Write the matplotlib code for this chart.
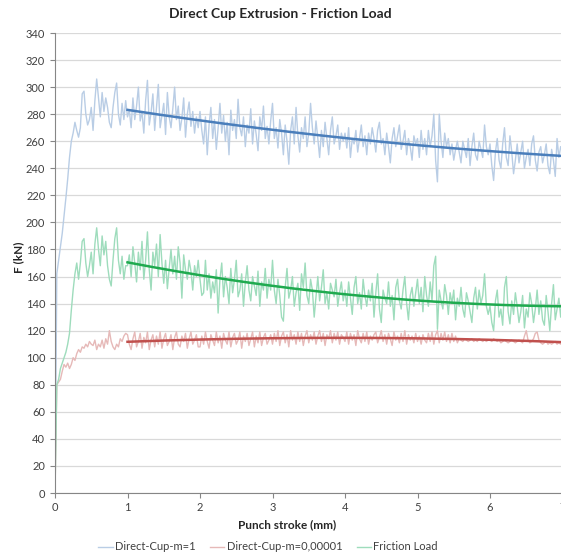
import numpy as np
import matplotlib
matplotlib.use("Agg")
import matplotlib.pyplot as plt

plt.rcParams['font.family'] = ['Lato', 'DejaVu Sans']

title = "Direct Cup Extrusion - Friction Load"
x_label = "Punch stroke (mm)"
y_label = "F (kN)"
series_names = ["Direct-Cup-m=1", "Direct-Cup-m=0,00001", "Friction Load"]
stroke_step = 0.025   # mm between samples
trend_start = 1.0     # mm where the trend lines begin
y_ticks = list(range(0, 341, 20))
x_ticks = [0, 1, 2, 3, 4, 5, 6, 7]

# Direct-Cup-m=1 (kN), samples every 0.025 mm from 0 to 7 mm
load_m1 = [
    0, 162, 172, 182, 192, 205, 218, 232, 248, 260, 266, 274, 268, 263, 270, 295, 297, 280, 272, 276,
    285, 268, 290, 306, 292, 278, 296, 282, 292, 285, 274, 270, 285, 296, 303, 280, 272, 288, 276, 290,
    278, 283, 270, 292, 276, 286, 300, 275, 282, 266, 290, 305, 272, 281, 295, 268, 285, 302, 270, 279,
    288, 265, 296, 278, 270, 284, 300, 276, 286, 268, 277, 292, 263, 280, 289, 271, 282, 266, 278, 270,
    282, 268, 258, 278, 250, 272, 285, 262, 276, 254, 270, 288, 266, 279, 260, 274, 250, 283, 268, 276,
    262, 291, 270, 264, 278, 256, 272, 266, 284, 258, 275, 265, 253, 278, 268, 286, 262, 271, 258, 275,
    288, 262, 270, 255, 276, 266, 250, 272, 260, 243, 268, 278, 258, 285, 264, 252, 270, 262, 278, 256,
    266, 288, 270, 258, 275, 262, 248, 268, 256, 274, 262, 250, 268, 278, 258, 264, 272, 254, 266, 260,
    266, 255, 270, 248, 262, 258, 268, 252, 262, 272, 256, 264, 250, 266, 258, 270, 262, 252, 268, 274,
    258, 262, 250, 266, 256, 244, 262, 270, 256, 264, 272, 254, 260, 268, 250, 262, 256, 246, 264, 258,
    262, 248, 268, 254, 262, 250, 268, 256, 264, 280, 246, 230, 280, 260, 248, 266, 256, 262, 250, 258,
    246, 254, 260, 252, 244, 260, 254, 248, 262, 242, 256, 266, 250, 246, 260, 254, 248, 272, 256, 250,
    258, 242, 231, 252, 262, 246, 240, 258, 270, 248, 242, 264, 252, 236, 246, 258, 244, 252, 260, 240,
    248, 254, 242, 258, 264, 246, 238, 252, 256, 244, 250, 258, 242, 236, 254, 246, 234, 262, 248, 256,
    252,
]

# Direct-Cup-m=0,00001 (kN)
load_m00001 = [
    0, 80, 82, 84, 90, 95, 93, 96, 92, 95, 100, 98, 103, 106, 104, 108, 107, 110, 108, 112,
    110, 109, 113, 106, 110, 108, 113, 107, 114, 110, 120, 112, 108, 106, 110, 108, 114, 112, 116, 118,
    117, 110, 106, 114, 119, 108, 112, 118, 107, 115, 111, 119, 106, 113, 117, 108, 116, 110, 119, 107,
    114, 118, 109, 112, 117, 106, 115, 119, 110, 108, 116, 112, 118, 107, 114, 119, 110, 113, 117, 108,
    108, 116, 110, 119, 112, 107, 117, 113, 109, 119, 111, 116, 107, 118, 113, 110, 119, 108, 115, 118,
    110, 113, 119, 107, 116, 112, 118, 109, 114, 119, 108, 116, 111, 119, 109, 115, 118, 110, 113, 117,
    110, 118, 112, 120, 109, 116, 119, 111, 117, 108, 120, 113, 117, 110, 119, 112, 118, 109, 116, 120,
    111, 117, 113, 119, 110, 116, 120, 112, 118, 109, 117, 114, 120, 111, 118, 113, 119, 110, 117, 115,
    112, 119, 110, 118, 113, 117, 109, 120, 114, 111, 118, 112, 119, 110, 116, 113, 117, 119, 111, 115,
    120, 112, 117, 110, 118, 114, 109, 119, 113, 116, 111, 118, 112, 120, 110, 117, 113, 116, 111, 118,
    112, 116, 110, 117, 113, 111, 118, 112, 119, 110, 117, 120, 111, 118, 113, 119, 112, 117, 111, 118,
    112, 116, 111, 114, 113, 112, 114, 113, 112, 113, 114, 112, 113, 112, 114, 113, 112, 113, 112, 113,
    113, 112, 114, 113, 112, 113, 111, 112, 113, 112, 111, 112, 113, 112, 111, 112, 113, 112, 111, 116,
    120, 113, 111, 112, 114, 118, 119, 113, 111, 110, 111, 112, 110, 111, 110, 111, 112, 110, 111, 110,
    111,
]

# Friction Load (kN)
friction_load = [
    0, 80, 84, 92, 96, 100, 104, 110, 118, 135, 150, 162, 170, 158, 170, 186, 188, 170, 160, 168,
    178, 162, 184, 196, 180, 168, 190, 176, 186, 168, 158, 153, 172, 188, 196, 172, 162, 175, 158, 168,
    168, 176, 160, 182, 170, 156, 178, 165, 186, 158, 172, 193, 165, 150, 178, 168, 184, 160, 191, 170,
    155, 172, 151, 166, 180, 162, 175, 158, 182, 170, 144, 176, 165, 158, 172, 164, 150, 168, 160, 172,
    158, 146, 148, 172, 150, 162, 144, 156, 148, 165, 133, 158, 170, 145, 160, 152, 140, 166, 148, 158,
    172, 145, 150, 162, 138, 156, 168, 150, 142, 160, 153, 146, 164, 138, 156, 150, 166, 144, 158, 150,
    172, 150, 140, 158, 146, 130, 127, 152, 166, 144, 150, 160, 138, 148, 155, 135, 162, 152, 170, 146,
    140, 158, 150, 130, 145, 160, 142, 152, 165, 140, 148, 136, 155, 150, 145, 158, 138, 148, 156, 142,
    150, 138, 156, 144, 132, 152, 160, 140, 148, 136, 158, 146, 138, 150, 142, 155, 130, 148, 162, 136,
    126, 150, 144, 140, 156, 138, 146, 128, 152, 158, 142, 136, 150, 160, 140, 128, 146, 152, 138, 148,
    158, 140, 152, 134, 160, 146, 138, 156, 142, 168, 175, 121, 150, 142, 136, 154, 146, 132, 148, 140,
    150, 128, 144, 138, 152, 136, 130, 148, 142, 134, 126, 144, 152, 136, 150, 140, 146, 162, 138, 132,
    138, 126, 120, 142, 150, 130, 136, 124, 152, 160, 134, 125, 142, 132, 148, 138, 126, 134, 146, 122,
    136, 130, 148, 140, 126, 136, 150, 132, 142, 128, 124, 146, 134, 120, 140, 154, 128, 136, 144, 130,
    146,
]

data_colors = ["#b9cde5", "#e6b9b8", "#9edcbc"]
trend_colors = ["#4a7ebb", "#c0504d", "#1faa4f"]

fig = plt.figure(figsize=(5.61, 5.58), dpi=100)
ax = fig.add_axes([55 / 561, 1 - 493 / 558, 507.5 / 561, 460 / 558])

all_series = [load_m1, load_m00001, friction_load]
handles = []
for vals, dc, name in zip(all_series, data_colors, series_names):
    y = np.array(vals, dtype=float)
    x = np.arange(len(y)) * stroke_step
    h, = ax.plot(x, y, color=dc, lw=1.0, label=name, zorder=2)
    handles.append(h)

for vals, tc in zip(all_series, trend_colors):
    y = np.array(vals, dtype=float)
    x = np.arange(len(y)) * stroke_step
    m = x >= trend_start - 1e-9
    coef = np.polyfit(x[m], y[m], 2)
    ax.plot(x[m], np.polyval(coef, x[m]), color=tc, lw=1.8, zorder=3)

ax.set_xlim(0, 7)
ax.set_ylim(0, 340)
ax.set_yticks(y_ticks)
ax.set_xticks(x_ticks)
ax.yaxis.grid(True, color="#d9d9d9", lw=0.9)
ax.set_axisbelow(True)
for s in ["top", "right"]:
    ax.spines[s].set_visible(False)
ax.spines["left"].set_color("#868686")
ax.spines["bottom"].set_color("#868686")
ax.tick_params(axis="both", colors="#868686", labelcolor="#404040", labelsize=8, length=3.5, width=0.8)
ax.tick_params(axis="y", pad=3.5)
ax.tick_params(axis="x", pad=3)

fig.text(0.5, 1 - 14 / 558, title, ha="center", va="center", fontsize=10, fontweight="bold", color="#262626")
fig.text(287 / 561, 1 - 525 / 558, x_label, ha="center", va="center", fontsize=8.5, fontweight="bold", color="#262626")
fig.text(19 / 561, 1 - 257 / 558, y_label, ha="center", va="center", rotation=90, fontsize=8.5, fontweight="bold", color="#262626")

leg = fig.legend(handles=handles, loc="center", bbox_to_anchor=(268 / 561, 1 - 547 / 558), ncol=3,
                 frameon=False, fontsize=8, handlelength=1.3, handletextpad=0.2, columnspacing=1.3)
for t in leg.get_texts():
    t.set_color("#404040")

fig.savefig("out.png", dpi=100)
